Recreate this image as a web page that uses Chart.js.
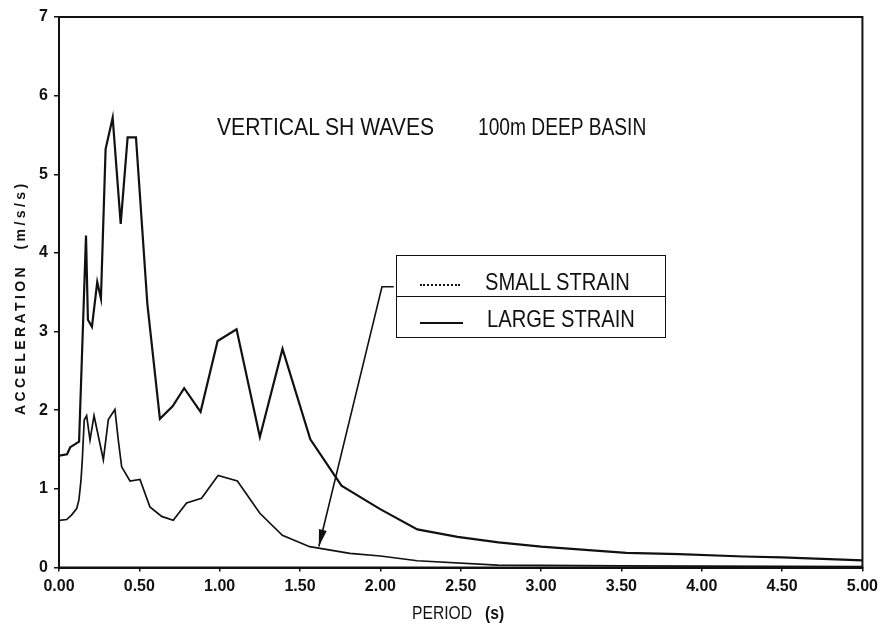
<!DOCTYPE html>
<html>
<head>
<meta charset="utf-8">
<script src="https://cdn.jsdelivr.net/npm/chart.js@4.4.1/dist/chart.umd.min.js"></script>
<style>
  html, body { margin: 0; padding: 0; background: #fff; }
  #wrap { position: relative; width: 883px; height: 625px; overflow: hidden; }
  #wrap canvas { position: absolute; left: 0; top: 0; }
  .txt { position: absolute; font-family: "Liberation Sans", Arial, sans-serif; color: #111; white-space: pre; line-height: 1; transform-origin: 0 0; }
  #legendBox { position: absolute; left: 396px; top: 255px; width: 268px; height: 81px; border: 1.6px solid #111; }
  #legendDiv { position: absolute; left: 0; top: 40px; width: 100%; height: 0; border-top: 1.4px solid #111; }
  .sampleDot { position: absolute; left: 23px; top: 28px; width: 40px; height: 0; border-top: 2px dotted #111; }
  .sampleSolid { position: absolute; left: 23px; top: 66px; width: 43px; height: 0; border-top: 2px solid #111; }
</style>
</head>
<body>
<div id="wrap">
  <canvas id="c" width="883" height="625"></canvas>
  <div class="txt" id="t1" style="left:217px; top:115px; font-size:24px; transform:scaleX(0.88);">VERTICAL SH WAVES</div>
  <div class="txt" id="t2" style="left:478px; top:115px; font-size:24px; transform:scaleX(0.8);">100m DEEP BASIN</div>
  <div id="legendBox">
    <div id="legendDiv"></div>
    <div class="sampleDot"></div>
    <div class="sampleSolid"></div>
    <div class="txt" style="left:88px; top:14px; font-size:24px; transform:scaleX(0.84);">SMALL STRAIN</div>
    <div class="txt" style="left:90px; top:51px; font-size:24px; transform:scaleX(0.84);">LARGE STRAIN</div>
  </div>
  <div class="txt" id="ylab" style="left:13px; top:415px; font-size:14px; font-weight:bold; letter-spacing:3.4px; transform:rotate(-90deg);">ACCELERATION  (m/s/s)</div>
  <div class="txt" id="xlab" style="left:412px; top:604px; font-size:18px; transform:scaleX(0.87);">PERIOD   <b>(s)</b></div>
</div>
<script>
// ---- data ----
const xTickValues = [0, 0.5, 1, 1.5, 2, 2.5, 3, 3.5, 4, 4.5, 5];
const xTickLabels = ["0.00", "0.50", "1.00", "1.50", "2.00", "2.50", "3.00", "3.50", "4.00", "4.50", "5.00"];
const yTickValues = [0, 1, 2, 3, 4, 5, 6, 7];
const yTickLabels = ["0", "1", "2", "3", "4", "5", "6", "7"];

const largeStrainPeriod = [0, 0.02, 0.05, 0.07, 0.125, 0.168, 0.18, 0.205, 0.238, 0.261, 0.29, 0.334, 0.384, 0.427, 0.479, 0.55, 0.628, 0.707, 0.779, 0.881, 0.987, 1.105, 1.25, 1.391, 1.564, 1.758, 1.996, 2.23, 2.48, 2.735, 3.0, 3.53, 3.86, 4.26, 4.5, 5.0];
const largeStrainAccel  = [1.42, 1.43, 1.44, 1.53, 1.6, 4.22, 3.15, 3.06, 3.63, 3.42, 5.32, 5.72, 4.37, 5.47, 5.47, 3.35, 1.89, 2.05, 2.28, 1.98, 2.88, 3.03, 1.66, 2.78, 1.63, 1.04, 0.745, 0.485, 0.39, 0.32, 0.265, 0.185, 0.17, 0.14, 0.13, 0.09];

const smallStrainPeriod = [0, 0.048, 0.079, 0.11, 0.124, 0.137, 0.145, 0.157, 0.172, 0.193, 0.218, 0.276, 0.307, 0.348, 0.369, 0.39, 0.442, 0.504, 0.566, 0.639, 0.711, 0.794, 0.887, 0.99, 1.11, 1.25, 1.39, 1.56, 1.81, 2.0, 2.23, 2.73, 3.5, 5.0];
const smallStrainAccel  = [0.60, 0.61, 0.67, 0.75, 0.86, 1.11, 1.37, 1.875, 1.93, 1.62, 1.93, 1.37, 1.88, 2.01, 1.62, 1.28, 1.1, 1.12, 0.77, 0.65, 0.60, 0.82, 0.88, 1.17, 1.10, 0.69, 0.41, 0.265, 0.18, 0.146, 0.086, 0.03, 0.02, 0.01];

// annotation arrow (data space): from legend edge to the small-strain curve
const arrowPeriod = [2.083, 2.01, 1.617];
const arrowAccel  = [3.57, 3.57, 0.267];

const toPts = (xs, ys) => xs.map((x, i) => ({ x: x, y: ys[i] }));
const INK = '#111';
const FONT = '"Liberation Sans", Arial, sans-serif';

const framePlugin = {
  id: 'frame',
  afterDatasetsDraw(chart) {
    const { ctx, chartArea: a, scales } = chart;
    ctx.save();
    ctx.strokeStyle = INK;
    ctx.lineWidth = 2;
    ctx.strokeRect(a.left, a.top, a.right - a.left, a.bottom - a.top);
    // arrow
    const px = arrowPeriod.map(v => scales.x.getPixelForValue(v));
    const py = arrowAccel.map(v => scales.y.getPixelForValue(v));
    ctx.lineWidth = 1.6;
    ctx.beginPath();
    ctx.moveTo(px[0], py[0]);
    for (let i = 1; i < px.length; i++) ctx.lineTo(px[i], py[i]);
    ctx.stroke();
    const n = px.length - 1;
    const ang = Math.atan2(py[n] - py[n - 1], px[n] - px[n - 1]);
    const L = 17, W = 4;
    const bx = px[n] - L * Math.cos(ang), by = py[n] - L * Math.sin(ang);
    ctx.fillStyle = INK;
    ctx.beginPath();
    ctx.moveTo(px[n], py[n]);
    ctx.lineTo(bx + W * Math.sin(ang), by - W * Math.cos(ang));
    ctx.lineTo(bx - W * Math.sin(ang), by + W * Math.cos(ang));
    ctx.closePath();
    ctx.fill();
    ctx.restore();
  }
};

new Chart(document.getElementById('c'), {
  type: 'scatter',
  data: {
    datasets: [
      { label: 'LARGE STRAIN', data: toPts(largeStrainPeriod, largeStrainAccel), showLine: true, borderColor: INK, borderWidth: 2.2, pointRadius: 0, tension: 0, fill: false },
      { label: 'SMALL STRAIN', data: toPts(smallStrainPeriod, smallStrainAccel), showLine: true, borderColor: INK, borderWidth: 1.7, pointRadius: 0, tension: 0, fill: false }
    ]
  },
  options: {
    responsive: false,
    animation: false,
    layout: { padding: { left: 0, top: 17, right: 20, bottom: 0 } },
    plugins: { legend: { display: false }, tooltip: { enabled: false }, title: { display: false } },
    scales: {
      x: {
        type: 'linear', min: 0, max: 5,
        afterBuildTicks: s => { s.ticks = xTickValues.map(v => ({ value: v })); },
        afterFit: s => { s.height = 57.5; },
        ticks: { autoSkip: false, maxRotation: 0, minRotation: 0, padding: 5, color: INK,
                 font: { family: FONT, size: 16, weight: 'bold' },
                 callback: (v, i) => xTickLabels[i] },
        grid: { display: true, drawOnChartArea: false, drawTicks: true, tickLength: 4, color: INK, lineWidth: 1.5 },
        border: { display: true, color: INK, width: 2 },
        title: { display: false }
      },
      y: {
        type: 'linear', min: 0, max: 7,
        afterBuildTicks: s => { s.ticks = yTickValues.map(v => ({ value: v })); },
        afterFit: s => { s.width = 59; },
        ticks: { autoSkip: false, padding: 6, color: INK,
                 font: { family: FONT, size: 16, weight: 'bold' },
                 callback: (v, i) => yTickLabels[i] },
        grid: { display: true, drawOnChartArea: false, drawTicks: true, tickLength: 5, color: INK, lineWidth: 1.5 },
        border: { display: true, color: INK, width: 2 },
        title: { display: false }
      }
    }
  },
  plugins: [framePlugin]
});
</script>
</body>
</html>
